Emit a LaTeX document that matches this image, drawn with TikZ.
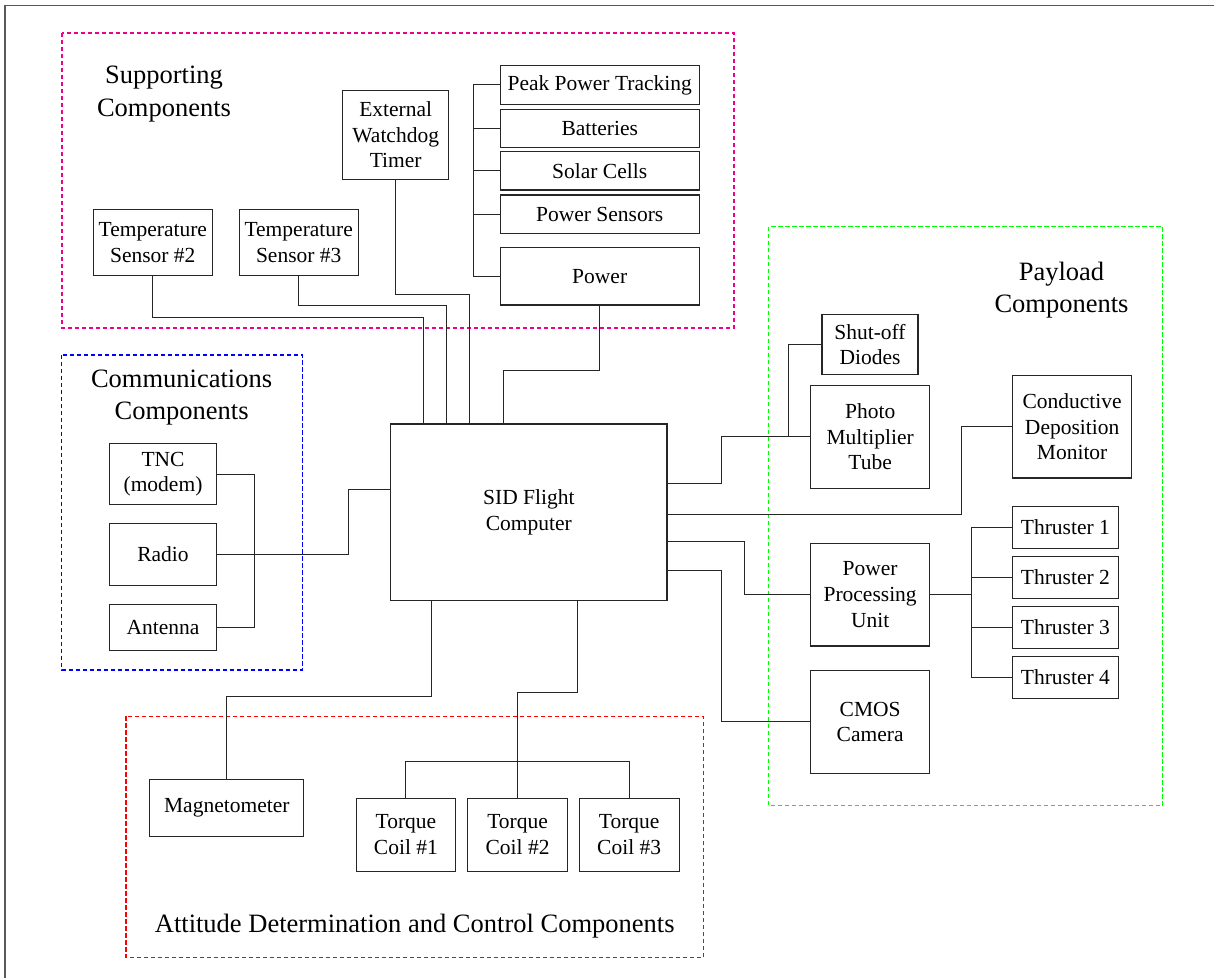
\documentclass[tikz,border=0pt]{standalone}
\usepackage{fontspec}
\setmainfont{Liberation Serif}
\newcommand\boxfont{\fontsize{10.75pt}{12.8pt}\selectfont}
\newcommand\grpfont{\fontsize{13.25pt}{16.25pt}\selectfont}
\begin{document}
\begin{tikzpicture}[x=0.5pt,y=-0.5pt,
  box/.style 2 args={draw=black!85, line width=0.55pt,
    minimum width={#1*0.5pt}, minimum height={#2*0.5pt},
    inner sep=0pt, align=center, font=\boxfont},
  wire/.style={draw=black!85, line width=0.5pt},
  group/.style={line width=0.6pt, dash pattern=on 2.2pt off 1.3pt},
  title/.style={inner sep=0pt, align=center, font=\grpfont}]

\useasboundingbox (0,0) rectangle (1214,978);

% page frame
\draw[black!65, line width=0.7pt] (5,978) -- (5,5.7) -- (1214,5.7);

% subsystem groups
\draw[group, magenta] (62,33) rectangle (734,328);
\draw[group, blue] (61.7,355) rectangle (302.3,670);
\draw[group, green] (768.7,226.7) rectangle (1162.6,805.7);
\draw[group, red] (126,716.3) rectangle (703.2,957.7);

% group titles
\node[title] (tsup) at (164,94) {Supporting\\Components};
\node[title] (tcom) at (181.6,397.3) {Communications\\Components};
\node[title] (tpay) at (1061.5,290) {Payload\\Components};
\node[title, anchor=base] (tatt) at (414.7,932.3) {Attitude Determination and Control Components};

% central computer
\node[box={276.3}{176.3}] (sid) at (528.85,512.15) {SID Flight\\Computer};

% supporting components
\node[box={119}{65.6}] (ts2) at (152.8,242.5) {Temperature\\Sensor \#2};
\node[box={119.3}{65.6}] (ts3) at (298.7,242.5) {Temperature\\Sensor \#3};
\node[box={106}{88.6}] (wdt) at (395.7,135) {External\\Watchdog\\Timer};
\node[box={199.3}{38.6}] (ppt) at (599.7,85) {Peak Power Tracking};
\node[box={199.3}{38.4}] (bat) at (599.7,128.5) {Batteries};
\node[box={199.3}{38.3}] (sol) at (599.7,170.85) {Solar Cells};
\node[box={199.3}{38.3}] (psens) at (599.7,214.15) {Power Sensors};
\node[box={199.3}{57.3}] (pwr) at (599.7,276.35) {Power};

% communications components
\node[box={107.4}{61.4}] (tnc) at (163,474) {TNC\\(modem)};
\node[box={107.4}{61.6}] (radio) at (163,554.5) {Radio};
\node[box={107.4}{46}] (ant) at (163,627.7) {Antenna};

% payload components
\node[box={96}{60.4}] (shut) at (870,344.5) {Shut-off\\Diodes};
\node[box={118.9}{103}] (pmt) at (870.15,436.8) {Photo\\Multiplier\\Tube};
\node[box={119.3}{102.7}] (cdm) at (1072.15,426.65) {Conductive\\Deposition\\Monitor};
\node[box={118.9}{102.7}] (ppu) at (870.15,594.65) {Power\\Processing\\Unit};
\node[box={118.9}{103}] (cmos) at (870.15,721.8) {CMOS\\Camera};
\node[box={105.7}{42}] (thr1) at (1065.35,527.3) {Thruster 1};
\node[box={105.7}{42}] (thr2) at (1065.35,577.3) {Thruster 2};
\node[box={105.7}{42}] (thr3) at (1065.35,627.15) {Thruster 3};
\node[box={105.7}{42}] (thr4) at (1065.35,677.15) {Thruster 4};

% attitude determination and control components
\node[box={154.2}{57.4}] (mag) at (226.8,808) {Magnetometer};
\node[box={99.4}{73}] (tc1) at (405.9,834.8) {Torque\\Coil \#1};
\node[box={100.2}{73}] (tc2) at (517.6,834.8) {Torque\\Coil \#2};
\node[box={99.9}{73}] (tc3) at (629.15,834.8) {Torque\\Coil \#3};

% bend points of the harness
\coordinate (j1) at (423.3,317.7);
\coordinate (j2) at (446.3,306);
\coordinate (j3) at (469.3,294.7);
\coordinate (j4) at (503.3,370);
\coordinate (pb) at (473.3,0);
\coordinate (cb) at (254.3,0);
\coordinate (r1) at (348.3,489.3);
\coordinate (p1) at (721,483.3);
\coordinate (s1) at (788.2,0);
\coordinate (c1) at (961.8,514.3);
\coordinate (u1) at (744,541.3);
\coordinate (m1) at (721.4,570);
\coordinate (tb) at (971.4,0);
\coordinate (g1) at (431.4,696.7);
\coordinate (q1) at (577.2,692.7);
\coordinate (q2) at (517.6,761);

% supporting harness
\draw[wire] (ts2.south) |- (j1) -- (j1 |- sid.north);
\draw[wire] (ts3.south) |- (j2) -- (j2 |- sid.north);
\draw[wire] (wdt.south) |- (j3) -- (j3 |- sid.north);
\draw[wire] (pwr.south) |- (j4) -- (j4 |- sid.north);
\foreach \n in {ppt,bat,sol,psens}
  \draw[wire] (\n.west) -| (pb |- pwr.west) -- (pwr.west);

% communications harness
\draw[wire] (tnc.east) -| (cb |- ant.east) -- (ant.east);
\draw[wire] (radio.east) -| (r1) -- (r1 -| sid.west);

% payload harness
\draw[wire] (p1 -| sid.east) -- (p1) |- (pmt.west);
\draw[wire] (shut.west) -| (s1 |- pmt.west) -- (pmt.west);
\draw[wire] (c1 -| sid.east) -- (c1) |- (cdm.west);
\draw[wire] (u1 -| sid.east) -- (u1) |- (ppu.west);
\draw[wire] (m1 -| sid.east) -- (m1) |- (cmos.west);
\foreach \t in {thr1,thr2,thr3,thr4}
  \draw[wire] (ppu.east) -- (ppu.east -| tb) |- (\t.west);

% attitude harness
\draw[wire] (g1 |- sid.south) -- (g1) -| (mag.north);
\foreach \t in {tc1,tc2,tc3}
  \draw[wire] (q1 |- sid.south) -- (q1) -| (q2) -| (\t.north);

\end{tikzpicture}
\end{document}
